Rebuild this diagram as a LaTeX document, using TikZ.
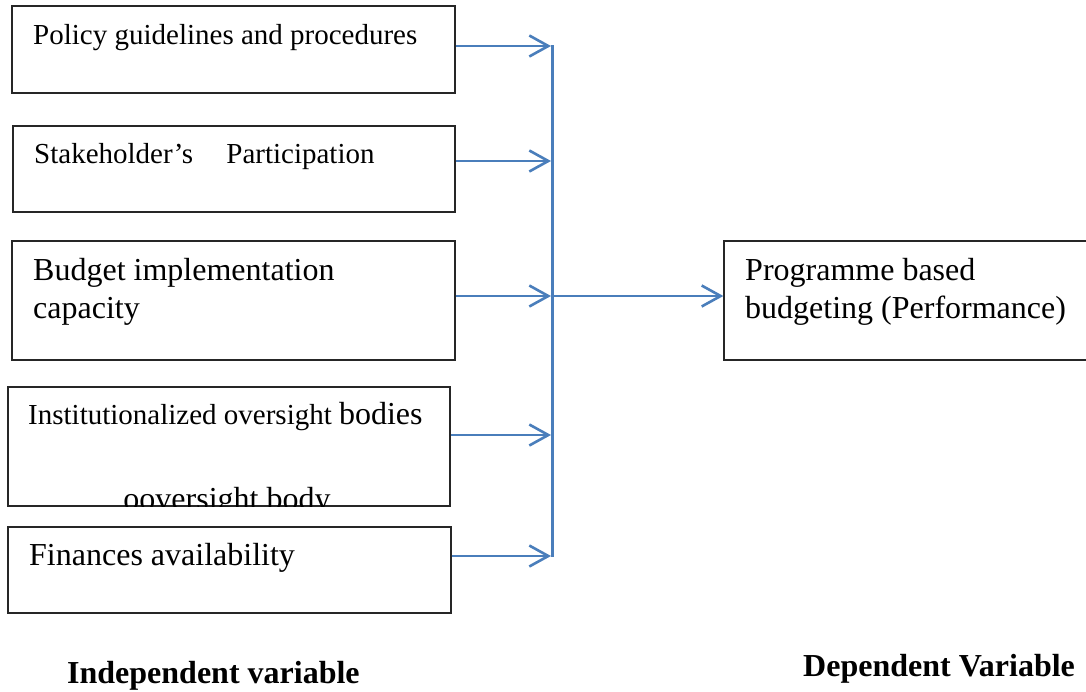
\documentclass[tikz,border=0pt]{standalone}
\usepackage{fontspec}
\setmainfont{Liberation Serif}
\usetikzlibrary{arrows.meta}
\definecolor{conn}{RGB}{74,126,187}
\begin{document}
\begin{tikzpicture}[x=1pt,y=-1pt,
  box/.style={draw=black!85,line width=1.3pt,inner sep=0pt,rectangle},
  lbl/.style={anchor=base west,inner sep=0pt,text=black},
  conarrow/.style={draw=conn,line width=2.6pt,-{Straight Barb[length=19pt,width=21pt,line width=2.6pt]}},
  bus/.style={draw=conn,line width=2.3pt}]
\useasboundingbox (0,0) rectangle (1086,691);
\node[box,minimum width=443pt,minimum height=87pt] (b1) at (233.5,49.5) {};
\node[box,minimum width=442pt,minimum height=86pt] (b2) at (234,169) {};
\node[box,minimum width=443pt,minimum height=119pt] (b3) at (233.5,300.5) {};
\node[box,minimum width=442pt,minimum height=119pt] (b4) at (229,446.5) {};
\node[box,minimum width=443pt,minimum height=86pt] (b5) at (229.5,570) {};
\node[box,minimum width=363pt,minimum height=119pt] (r) at (905.5,300.5) {};
% texts
\node[lbl,font=\fontsize{29}{34}\selectfont] (t1) at (33,44) {Policy guidelines and procedures};
\node[lbl,font=\fontsize{29}{34}\selectfont] (t2) at (34,163) {Stakeholder’s\hspace{26pt} Participation};
\node[lbl,font=\fontsize{32}{38}\selectfont] (t3a) at (33,280) {Budget implementation};
\node[lbl,font=\fontsize{32}{38}\selectfont] (t3b) at (33,318) {capacity};
\node[lbl] (t4) at (28,424) {\fontsize{29}{34}\selectfont Institutionalized oversight \fontsize{32}{38}\selectfont bodies};
\begin{scope}
\clip (b4.north west) rectangle (b4.south east);
\node[anchor=base,inner sep=0pt,font=\fontsize{32}{38}\selectfont] (t4b) at (227,509) {ooversight body};
\end{scope}
\node[lbl,font=\fontsize{32}{38}\selectfont] (t5) at (29,565) {Finances availability};
\node[lbl,font=\fontsize{32}{38}\selectfont] (ta) at (745,280) {Programme based};
\node[lbl,font=\fontsize{32}{38}\selectfont] (tb) at (745,318) {budgeting (Performance)};
\node[lbl,font=\fontsize{32}{38}\selectfont\bfseries] (iv) at (67,683) {Independent variable};
\node[lbl,font=\fontsize{32}{38}\selectfont\bfseries] (dv) at (803,676) {Dependent Variable};
% bus
\coordinate (p1) at (551,46);
\coordinate (p2) at (551,161);
\coordinate (p3) at (551,296);
\coordinate (p4) at (551,435);
\coordinate (p5) at (551,556);
\coordinate (btop) at (552.5,45);
\coordinate (bbot) at (552.5,557);
\draw[bus] (btop) -- (bbot);
\draw[conarrow] (b1.east |- p1) -- (p1);
\draw[conarrow] (b2.east |- p2) -- (p2);
\draw[conarrow] (b3.east |- p3) -- (p3);
\draw[conarrow] (b4.east |- p4) -- (p4);
\draw[conarrow] (b5.east |- p5) -- (p5);
\draw[conarrow] (bbot |- p3) -- (r.west |- p3);
\end{tikzpicture}
\end{document}
